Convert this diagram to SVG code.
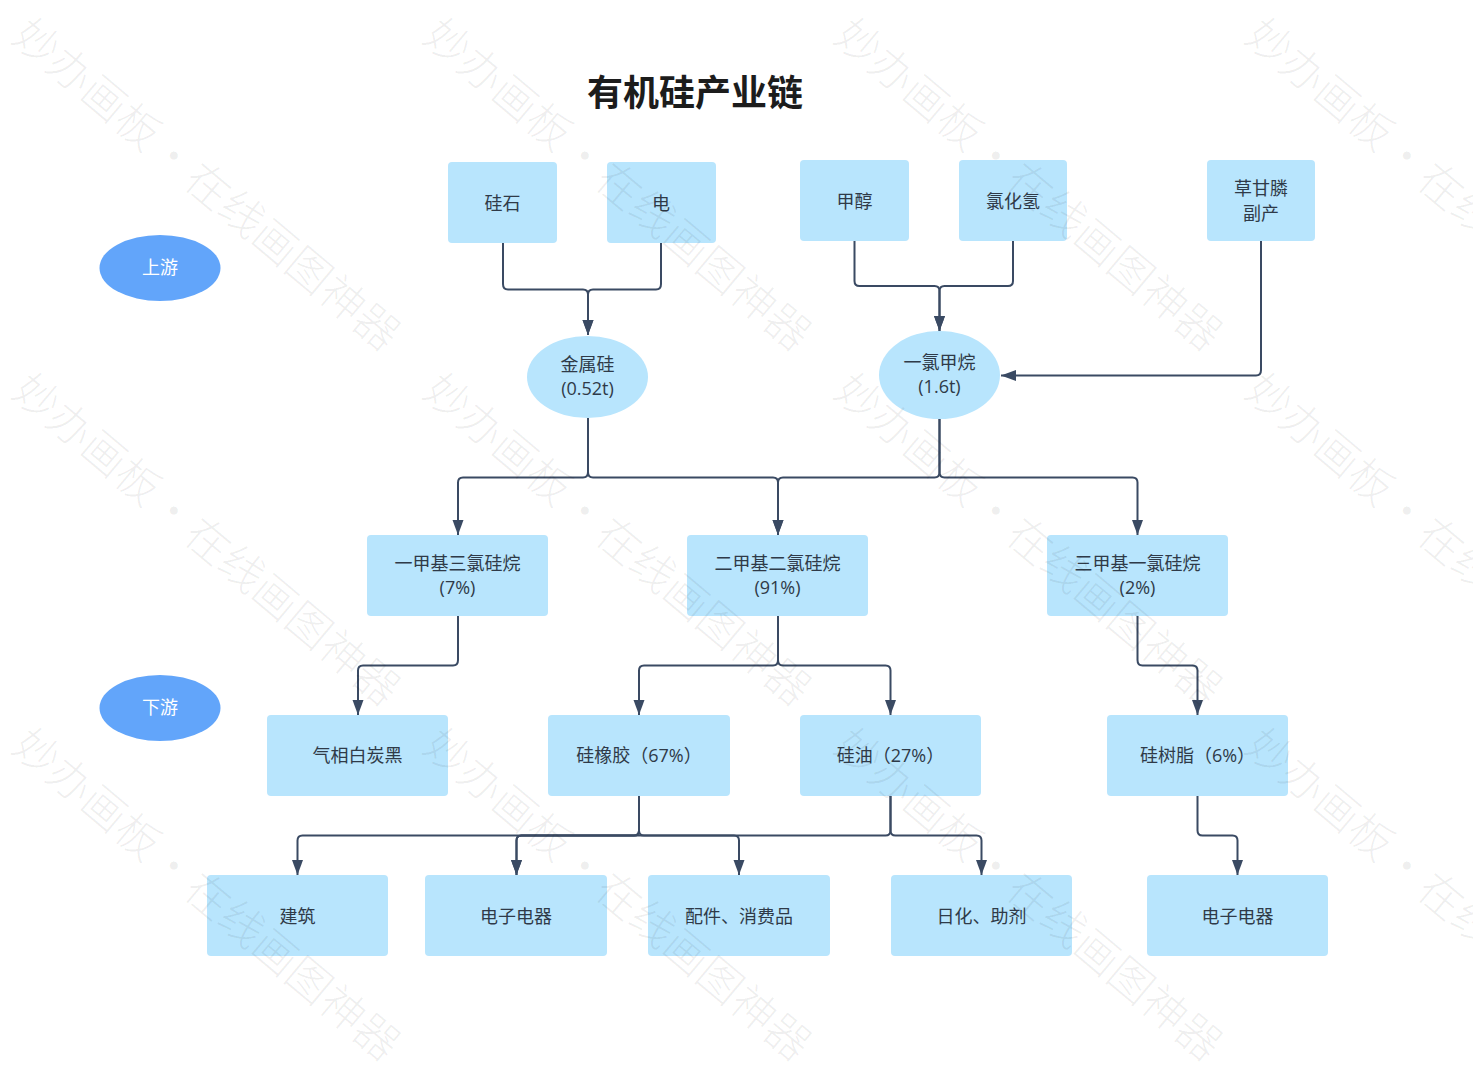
<svg xmlns="http://www.w3.org/2000/svg" xmlns:xlink="http://www.w3.org/1999/xlink" width="1473" height="1069" viewBox="0 0 1473 1069">
<style>
text{font-family:"Open Sans","Noto Sans CJK SC","Liberation Sans",sans-serif}
.n{fill:#b8e5fd}
.o{fill:#62a5fa}
.t{font-size:18px;fill:#2f3a48;text-anchor:middle}
.w{font-size:18px;fill:#fff;text-anchor:middle}
.c{fill:none;stroke:#3a4a63;stroke-width:2}
.wm{font-size:44px;word-spacing:-8px;fill:#000;fill-opacity:.065;font-family:"Noto Sans CJK SC",sans-serif;font-weight:300}
</style>
<defs>
<marker id="a" markerUnits="userSpaceOnUse" markerWidth="16" markerHeight="12" refX="15" refY="6" orient="auto"><path d="M0 0.500L15 6L0 11.500Z" fill="#3a4a63"/></marker>
<text id="wmt" class="wm" transform="rotate(40)">妙办画板 · 在线画图神器</text>
<g id="wmc">
<use xlink:href="#wmt" x="10" y="40"/><use xlink:href="#wmt" x="421" y="40"/><use xlink:href="#wmt" x="832" y="40"/><use xlink:href="#wmt" x="1243" y="40"/>
</g>
</defs>
<rect width="1473" height="1069" fill="#fff"/>
<g id="title"><text x="695" y="106" font-size="36" font-weight="700" fill="#1c1c1c" text-anchor="middle">有机硅产业链</text></g>
<g id="connectors">
<path class="c" marker-end="url(#a)" d="M503 243V284Q503 289.500 508 289.500H583Q588 289.500 588 294.500V335"/>
<path class="c" marker-end="url(#a)" d="M661 243V284Q661 289.500 656 289.500H593Q588 289.500 588 294.500V335"/>
<path class="c" marker-end="url(#a)" d="M854.500 241V281Q854.500 286 859.500 286H934.500Q939.500 286 939.500 291V331"/>
<path class="c" marker-end="url(#a)" d="M1013 241V281Q1013 286 1008 286H944.500Q939.500 286 939.500 291V331"/>
<path class="c" marker-end="url(#a)" d="M1261 241V370Q1261 375.500 1256 375.500H1001"/>
<path class="c" marker-end="url(#a)" d="M588 418V472Q588 477.500 583 477.500H463Q458 477.500 458 482.500V535"/>
<path class="c" marker-end="url(#a)" d="M588 418V472Q588 477.500 593 477.500H773Q778 477.500 778 482.500V535"/>
<path class="c" marker-end="url(#a)" d="M939.500 419V472Q939.500 477.500 934.500 477.500H783Q778 477.500 778 482.500V535"/>
<path class="c" marker-end="url(#a)" d="M939.500 419V472Q939.500 477.500 944.500 477.500H1132.500Q1137.500 477.500 1137.500 482.500V535"/>
<path class="c" marker-end="url(#a)" d="M458 616V660Q458 665.500 453 665.500H363Q358 665.500 358 670.500V715"/>
<path class="c" marker-end="url(#a)" d="M778 616V660Q778 665.500 773 665.500H644Q639 665.500 639 670.500V715"/>
<path class="c" marker-end="url(#a)" d="M778 616V660Q778 665.500 783 665.500H885.500Q890.500 665.500 890.500 670.500V715"/>
<path class="c" marker-end="url(#a)" d="M1137.500 616V660Q1137.500 665.500 1142.500 665.500H1192.500Q1197.500 665.500 1197.500 670.500V715"/>
<path class="c" marker-end="url(#a)" d="M639 796V830.500Q639 835.500 634 835.500H302.500Q297.500 835.500 297.500 840.500V875"/>
<path class="c" marker-end="url(#a)" d="M639 796V830.500Q639 835.500 634 835.500H521.500Q516.500 835.500 516.500 840.500V875"/>
<path class="c" marker-end="url(#a)" d="M639 796V830.500Q639 835.500 644 835.500H734Q739 835.500 739 840.500V875"/>
<path class="c" marker-end="url(#a)" d="M890.500 796V830.500Q890.500 835.500 885.500 835.500H521.500Q516.500 835.500 516.500 840.500V875"/>
<path class="c" marker-end="url(#a)" d="M890.500 796V830.500Q890.500 835.500 895.500 835.500H976.500Q981.500 835.500 981.500 840.500V875"/>
<path class="c" marker-end="url(#a)" d="M1197.500 796V830.500Q1197.500 835.500 1202.500 835.500H1232.500Q1237.500 835.500 1237.500 840.500V875"/>
</g>
<g id="up"><ellipse class="o" cx="160" cy="268" rx="60.500" ry="33"/><text class="w" x="160" y="274">上游</text></g>
<g id="down"><ellipse class="o" cx="160" cy="708" rx="60.500" ry="33"/><text class="w" x="160" y="714">下游</text></g>
<g id="n1"><rect class="n" x="448" y="162" width="109" height="81" rx="4"/><text class="t" x="502.500" y="210">硅石</text></g>
<g id="n2"><rect class="n" x="607" y="162" width="109" height="81" rx="4"/><text class="t" x="661" y="210">电</text></g>
<g id="n3"><rect class="n" x="800" y="160" width="109" height="81" rx="4"/><text class="t" x="854.500" y="208">甲醇</text></g>
<g id="n4"><rect class="n" x="959" y="160" width="108" height="81" rx="4"/><text class="t" x="1013" y="208">氯化氢</text></g>
<g id="n5"><rect class="n" x="1207" y="160" width="108" height="81" rx="4"/><text class="t" x="1261" y="195">草甘膦</text><text class="t" x="1261" y="220">副产</text></g>
<g id="n6"><ellipse class="n" cx="587.500" cy="377" rx="60.500" ry="41"/><text class="t" x="587.500" y="371">金属硅</text><text class="t" x="587.500" y="395">(0.52t)</text></g>
<g id="n7"><ellipse class="n" cx="939.500" cy="375" rx="60.500" ry="44"/><text class="t" x="939.500" y="369">一氯甲烷</text><text class="t" x="939.500" y="393">(1.6t)</text></g>
<g id="n8"><rect class="n" x="367" y="535" width="181" height="81" rx="4"/><text class="t" x="457.500" y="570">一甲基三氯硅烷</text><text class="t" x="457.500" y="594">(7%)</text></g>
<g id="n9"><rect class="n" x="687" y="535" width="181" height="81" rx="4"/><text class="t" x="777.500" y="570">二甲基二氯硅烷</text><text class="t" x="777.500" y="594">(91%)</text></g>
<g id="n10"><rect class="n" x="1047" y="535" width="181" height="81" rx="4"/><text class="t" x="1137.500" y="570">三甲基一氯硅烷</text><text class="t" x="1137.500" y="594">(2%)</text></g>
<g id="n11"><rect class="n" x="267" y="715" width="181" height="81" rx="4"/><text class="t" x="357.500" y="762">气相白炭黑</text></g>
<g id="n12"><rect class="n" x="548" y="715" width="182" height="81" rx="4"/><text class="t" x="639" y="762">硅橡胶（67%）</text></g>
<g id="n13"><rect class="n" x="800" y="715" width="181" height="81" rx="4"/><text class="t" x="890.500" y="762">硅油（27%）</text></g>
<g id="n14"><rect class="n" x="1107" y="715" width="181" height="81" rx="4"/><text class="t" x="1197.500" y="762">硅树脂（6%）</text></g>
<g id="n15"><rect class="n" x="207" y="875" width="181" height="81" rx="4"/><text class="t" x="297.500" y="923">建筑</text></g>
<g id="n16"><rect class="n" x="425" y="875" width="182" height="81" rx="4"/><text class="t" x="516" y="923">电子电器</text></g>
<g id="n17"><rect class="n" x="648" y="875" width="182" height="81" rx="4"/><text class="t" x="739" y="923">配件、消费品</text></g>
<g id="n18"><rect class="n" x="891" y="875" width="181" height="81" rx="4"/><text class="t" x="981.500" y="923">日化、助剂</text></g>
<g id="n19"><rect class="n" x="1147" y="875" width="181" height="81" rx="4"/><text class="t" x="1237.500" y="923">电子电器</text></g>
<g id="watermark">
<use xlink:href="#wmc"/><use xlink:href="#wmc" y="355"/><use xlink:href="#wmc" y="710"/>
</g>
</svg>
